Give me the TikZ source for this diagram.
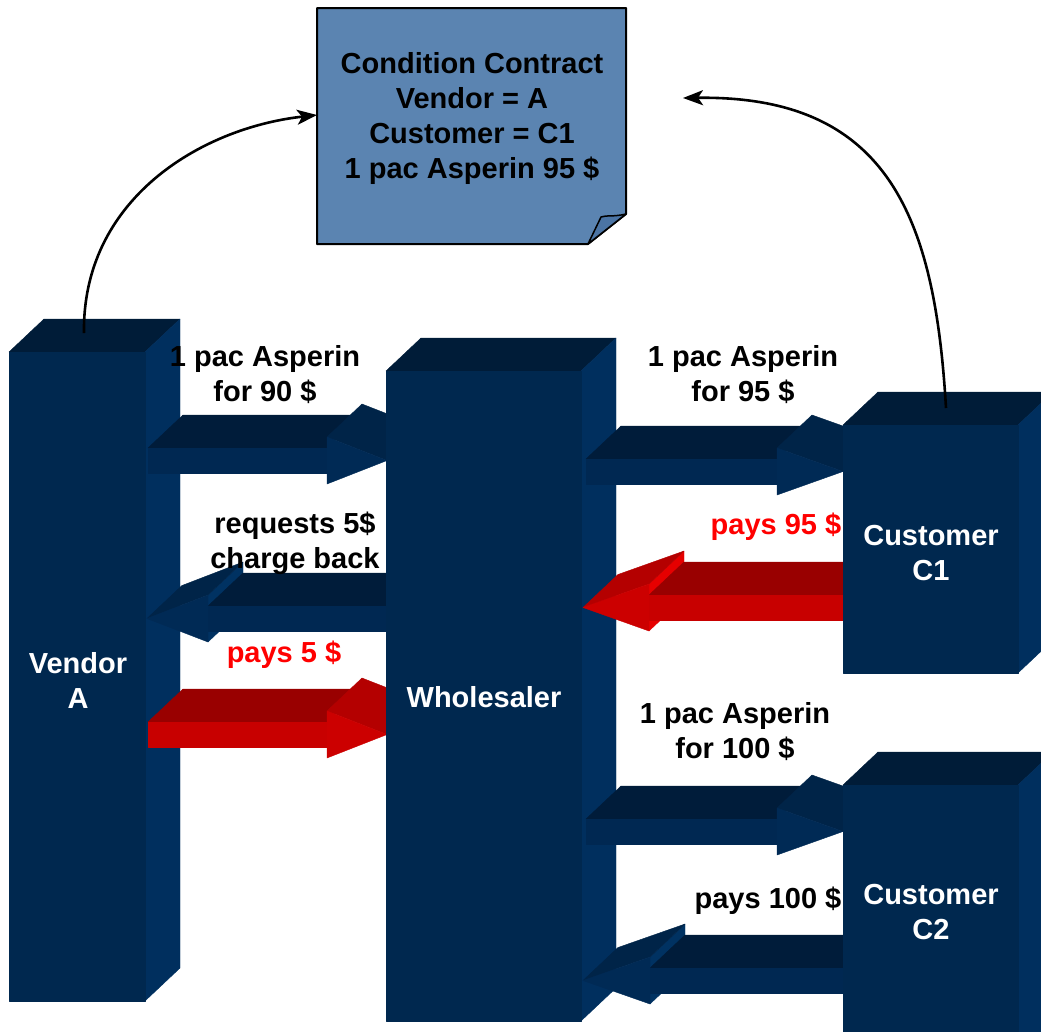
\documentclass[tikz,border=0pt]{standalone}
\usepackage{fontspec}
\setmainfont{Liberation Sans}
\usetikzlibrary{arrows.meta}

% block colours
\definecolor{boxfront}{HTML}{00284F}
\definecolor{boxtop}{HTML}{001C38}
\definecolor{boxside}{HTML}{002F5E}
% dark blue 3D arrows
\definecolor{bltop}{HTML}{001C3A}
\definecolor{blhtop}{HTML}{002448}
\definecolor{blfront}{HTML}{002852}
\definecolor{blhfront}{HTML}{002A55}
\definecolor{blshoulder}{HTML}{003262}
% red 3D arrows
\definecolor{rdtop}{HTML}{990000}
\definecolor{rdhtop}{HTML}{B40000}
\definecolor{rdfront}{HTML}{C80000}
\definecolor{rdhfront}{HTML}{CC0000}
\definecolor{rdshoulder}{HTML}{E60000}
% contract note
\definecolor{notefill}{HTML}{5B84B1}
\definecolor{notefold}{HTML}{4B74A4}

% cuboid: front face from (#1,#2) to (#3,#4), depth offset (35,-33)
\newcommand\cuboid[4]{%
  \path[face=boxtop] (#1,#2) -- (#1+35,#2-33) -- (#3+35,#2-33) -- (#3,#2) -- cycle;
  \path[face=boxside] (#3,#2) -- (#3+35,#2-33) -- (#3+35,#4-33) -- (#3,#4) -- cycle;
  \path[face=boxfront] (#1,#2) rectangle (#3,#4);
}
% right-pointing 3D arrow: tail x, head base x, tip x, shaft top y, colour set
\newcommand\arrowright[5]{%
  \path[face=#5top] (#1,#4) -- (#2,#4) -- (#2+35,#4-33) -- (#1+35,#4-33) -- cycle;
  \path[face=#5htop] (#2,#4-11) -- (#2+35,#4-44) -- (#3+35,#4+12.5-33) -- (#3,#4+12.5) -- cycle;
  \path[face=#5front] (#1,#4) rectangle (#2,#4+25);
  \path[face=#5hfront] (#2,#4-11) -- (#3,#4+12.5) -- (#2,#4+36) -- cycle;
}
% left-pointing 3D arrow: tail x (right), head base x, tip x (left), shaft top y, colour set
\newcommand\arrowleft[5]{%
  \path[face=#5shoulder] (#2,#4-11) -- (#2+35,#4-44) -- (#2+35,#4+3) -- (#2,#4+36) -- cycle;
  \path[face=#5top] (#2,#4) -- (#1,#4) -- (#1+35,#4-33) -- (#2+35,#4-33) -- cycle;
  \path[face=#5htop] (#3,#4+12.5) -- (#2,#4-11) -- (#2+35,#4-44) -- (#3+35,#4+12.5-33) -- cycle;
  \path[face=#5front] (#2,#4) rectangle (#1,#4+25);
  \path[face=#5hfront] (#3,#4+12.5) -- (#2,#4-11) -- (#2,#4+36) -- cycle;
}

\begin{document}
\begin{tikzpicture}[x=1pt,y=-1pt,
  face/.style={fill=#1,draw=#1,line width=0.4pt,line join=round},
  lab/.style={font=\fontsize{29}{35}\selectfont\bfseries,align=center,inner sep=0pt},
  conn/.style={draw=black,line width=2.6pt,-{Stealth[length=20pt,width=15pt,inset=5pt]}}]
\useasboundingbox (0,0) rectangle (1041,1031);
\clip (0,0) rectangle (1041,1031);

% Vendor A block
\cuboid{9}{352}{145}{1001}

% vendor <-> wholesaler flows
\arrowright{148}{327}{387}{448}{bl}
\arrowleft{387}{208}{147}{606}{bl}
\arrowright{148}{327}{387}{722}{rd}

% Wholesaler block
\cuboid{386}{371}{581}{1021}

% wholesaler <-> customer flows
\arrowright{586}{777}{843}{459}{bl}
\arrowleft{843}{649}{583}{595}{rd}
\arrowright{586}{777}{843}{819}{bl}
\arrowleft{843}{650}{583}{968}{bl}

% customer blocks
\cuboid{843}{425}{1018}{673}
\cuboid{843}{785}{1018}{1080}

% condition contract note with folded corner
\draw[line width=2pt,line join=round,fill=notefill]
  (317,8) -- (626,8) -- (626,214) -- (588,244) -- (317,244) -- cycle;
\draw[line width=1.5pt,line join=round,fill=notefold]
  (626,214) .. controls (614,217) and (606,215) .. (601,217) -- (588,244) -- cycle;
\node[lab] (contract) at (472,118)
  {Condition Contract\\Vendor = A\\Customer = C1\\1 pac Asperin 95 \$};

% block labels
\node[lab,text=white] (vendor) at (78,680) {Vendor\\A};
\node[lab,text=white] (wholesaler) at (484,697) {Wholesaler};
\node[lab,text=white] (cust1) at (931,553) {Customer\\C1};
\node[lab,text=white] (cust2) at (931,912) {Customer\\C2};

% flow labels
\node[lab] (sell90) at (265,375) {1 pac Asperin\\for 90 \$};
\node[lab] (chargeback) at (295,543) {requests 5\$\\charge back};
\node[lab,text=red] (pay5) at (284,655) {pays 5 \$};
\node[lab] (sell95) at (743,375) {1 pac Asperin\\for 95 \$};
\node[lab,text=red] (pay95) at (776,527) {pays 95 \$};
\node[lab] (sell100) at (735,732) {1 pac Asperin\\for 100 \$};
\node[lab] (pay100) at (768,901) {pays 100 \$};

% contract links
\coordinate (vendorTop) at (84,333);
\coordinate (cust1Top) at (946,408);
\coordinate (contractW) at (317,115);
\coordinate (contractE) at (683,98);
\draw[conn] (vendorTop) .. controls (82,200) and (200,128) .. (contractW);
\draw[conn] (cust1Top) .. controls (935,220) and (890,95) .. (contractE);
\end{tikzpicture}
\end{document}
